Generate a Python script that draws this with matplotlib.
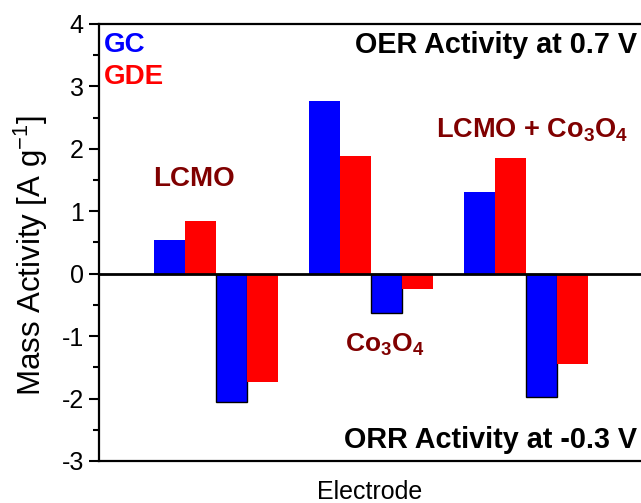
import matplotlib.pyplot as plt
import numpy as np
from matplotlib.ticker import MultipleLocator

plt.rcParams["font.family"] = ["Liberation Sans", "DejaVu Sans"]
plt.rcParams["mathtext.fontset"] = "custom"
plt.rcParams["mathtext.rm"] = "Liberation Sans"
plt.rcParams["mathtext.bf"] = "Liberation Sans:bold"
plt.rcParams["axes.unicode_minus"] = False

# electrode materials, OER at 0.7 V (positive) and ORR at -0.3 V (negative)
materials = ["LCMO", "Co3O4", "LCMO + Co3O4"]
oer_gc = [0.54, 2.77, 1.31]
oer_gde = [0.85, 1.89, 1.85]
orr_gc = [-2.05, -0.63, -1.98]
orr_gde = [-1.73, -0.25, -1.44]

blue = "#0000ff"
red = "#ff0000"
label_color = "#800000"

fig = plt.figure(figsize=(6.41, 5.03), dpi=100)
ax = fig.add_axes([0.1545, 0.0835, 0.8455, 0.8688])

base = np.arange(len(materials)) * 5
ax.bar(base, oer_gc, width=1, align="edge", color=blue, edgecolor="none")
ax.bar(base + 1, oer_gde, width=1, align="edge", color=red, edgecolor="none")
ax.bar(base + 2, orr_gc, width=1, align="edge", color=blue, edgecolor="black", linewidth=1)
ax.bar(base + 3, orr_gde, width=1, align="edge", color=red, edgecolor="none")

ax.axhline(0, color="black", linewidth=2, zorder=3)

ax.set_xlim(-1.77, 15.71)
ax.set_ylim(-3, 4)
ax.set_xticks([])
ax.yaxis.set_major_locator(MultipleLocator(1))
ax.yaxis.set_minor_locator(MultipleLocator(0.5))
ax.tick_params(axis="y", which="major", direction="out", length=7, width=1.5, labelsize=18, pad=4)
ax.tick_params(axis="y", which="minor", direction="out", length=4, width=1.5)
for side in ["left", "top", "bottom"]:
    ax.spines[side].set_linewidth(1.6)
ax.spines["right"].set_visible(False)

ax.set_ylabel("Mass Activity [A g$^{-1}$]", fontsize=22.5)
ax.yaxis.set_label_coords(-0.09, 0.471)
ax.set_xlabel("Electrode", fontsize=18, labelpad=14)

bold = dict(fontsize=20, fontweight="bold")
heading = dict(fontsize=20.7, fontweight="bold")
ax.text(-1.6, 3.66, "GC", color=blue, ha="left", va="center", **bold)
ax.text(-1.6, 3.15, "GDE", color=red, ha="left", va="center", **bold)
ax.text(15.58, 3.66, "OER Activity at 0.7 V", color="black", ha="right", va="center", **heading)
ax.text(15.58, -2.67, "ORR Activity at -0.3 V", color="black", ha="right", va="center", **heading)
ax.text(1.29, 1.52, "LCMO", color=label_color, ha="center", va="center", **bold)
ax.text(12.2, 2.3, r"LCMO + Co$_\mathbf{3}$O$_\mathbf{4}$", color=label_color,
        ha="center", va="center", fontsize=19.5, fontweight="bold")
ax.text(7.45, -1.14, r"Co$_\mathbf{3}$O$_\mathbf{4}$", color=label_color,
        ha="center", va="center", fontsize=19, fontweight="bold")

fig.savefig("out.png", dpi=100)
